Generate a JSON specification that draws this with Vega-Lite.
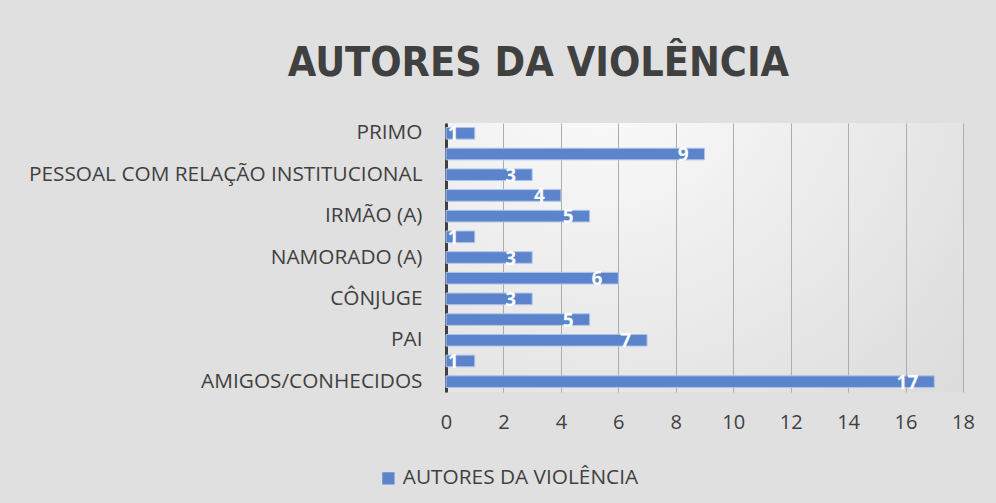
{
  "$schema": "https://vega.github.io/schema/vega-lite/v6.json",
  "width": 517,
  "height": 269,
  "autosize": {"type": "none"},
  "padding": {"left": 446, "top": 123, "right": 33, "bottom": 111},
  "background": "#e0e0e0",
  "config": {
    "view": {
      "stroke": null,
      "fill": {
        "gradient": "radial",
        "x1": 0.3, "y1": 0.1, "x2": 0.3, "y2": 0.1,
        "r1": 0, "r2": 1.0,
        "stops": [
          {"offset": 0, "color": "#fdfdfd"},
          {"offset": 1, "color": "#dadada"}
        ]
      }
    }
  },
  "title": {
    "text": "AUTORES DA VIOLÊNCIA",
    "font": "DejaVu Sans Condensed, Roboto",
    "fontSize": 41,
    "fontWeight": "bold",
    "color": "#404040",
    "anchor": "middle",
    "frame": "group",
    "dx": -166,
    "offset": 37
  },
  "data": {
    "values": [
      {"autor": "PRIMO", "n": 1},
      {"autor": "PADRASTO", "n": 9},
      {"autor": "PESSOAL COM RELAÇÃO INSTITUCIONAL", "n": 3},
      {"autor": "MÃE", "n": 4},
      {"autor": "IRMÃO (A)", "n": 5},
      {"autor": "TIO (A)", "n": 1},
      {"autor": "NAMORADO (A)", "n": 3},
      {"autor": "DESCONHECIDO", "n": 6},
      {"autor": "CÔNJUGE", "n": 3},
      {"autor": "EX-CÔNJUGE", "n": 5},
      {"autor": "PAI", "n": 7},
      {"autor": "AVÔ", "n": 1},
      {"autor": "AMIGOS/CONHECIDOS", "n": 17}
    ]
  },
  "encoding": {
    "y": {
      "field": "autor",
      "type": "nominal",
      "sort": null,
      "scale": {"paddingInner": 0.44, "paddingOuter": 0.22},
      "axis": {
        "title": null,
        "labelExpr": "indexof(['PRIMO','PESSOAL COM RELAÇÃO INSTITUCIONAL','IRMÃO (A)','NAMORADO (A)','CÔNJUGE','PAI','AMIGOS/CONHECIDOS'], datum.value) >= 0 ? datum.value : ''",
        "labelFont": "Open Sans",
        "labelFontSize": 20.8,
        "labelColor": "#404040",
        "labelPadding": 24,
        "labelLimit": 500,
        "ticks": false,
        "domainColor": "#404040",
        "domainWidth": 3
      }
    },
    "x": {
      "field": "n",
      "type": "quantitative",
      "scale": {"domain": [0, 18], "nice": false},
      "axis": {
        "title": null,
        "values": [0, 2, 4, 6, 8, 10, 12, 14, 16, 18],
        "labelFont": "Open Sans",
        "labelFontSize": 20,
        "labelColor": "#404040",
        "labelPadding": 20,
        "labelFlush": false,
        "ticks": false,
        "domain": false,
        "grid": true,
        "gridColor": "#adadad",
        "gridWidth": 1
      }
    }
  },
  "layer": [
    {
      "mark": {"type": "bar", "stroke": "#aec3e8", "strokeWidth": 1},
      "encoding": {
        "color": {
          "datum": "AUTORES DA VIOLÊNCIA",
          "type": "nominal",
          "scale": {"range": ["#5b84cc"]},
          "legend": {
            "title": null,
            "orient": "none",
            "legendX": -68,
            "legendY": 345,
            "symbolType": "square",
            "symbolSize": 150,
            "symbolStrokeWidth": 0,
            "labelFont": "Open Sans",
            "labelFontSize": 20.8,
            "labelColor": "#404040",
            "labelLimit": 400
          }
        }
      }
    },
    {
      "mark": {
        "type": "text",
        "align": "right",
        "baseline": "middle",
        "dx": -16,
        "dy": 1,
        "font": "Open Sans",
        "fontSize": 19,
        "fontWeight": "bold",
        "color": "#ffffff"
      },
      "encoding": {"text": {"field": "n", "type": "quantitative"}}
    }
  ]
}
